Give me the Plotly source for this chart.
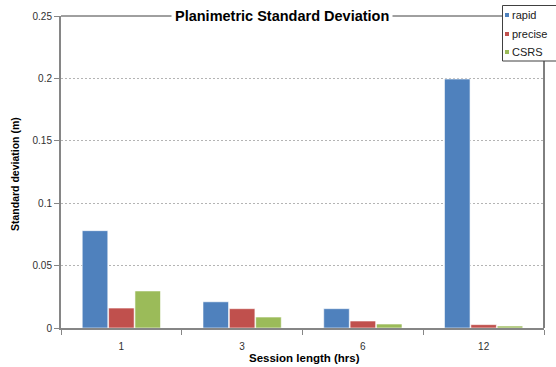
import plotly.graph_objects as go

# Session lengths (hours) and planimetric standard deviation (m) per solution type
sessions = ["1", "3", "6", "12"]
rapid = [0.078, 0.021, 0.0155, 0.1995]
precise = [0.016, 0.0155, 0.0056, 0.0027]
csrs = [0.0297, 0.0088, 0.0032, 0.0016]

series_names = ["rapid", "precise", "CSRS"]
series_values = [rapid, precise, csrs]
series_colors = ["#4F81BD", "#C0504D", "#9BBB59"]

y_ticks = [0, 0.05, 0.1, 0.15, 0.2, 0.25]
y_ticktext = ["0", "0.05", "0.1", "0.15", "0.2", "0.25"]

W, H = 556, 367
ML, MR, MT, MB = 61, 12, 16, 39
PW, PH = W - ML - MR, H - MT - MB


def px_x(x):
    """Pixel column -> paper x."""
    return (x - ML) / PW


def px_y(y):
    """Pixel row (from top) -> paper y."""
    return (H - MB - y) / PH


fig = go.Figure()
for name, vals, color in zip(series_names, series_values, series_colors):
    fig.add_trace(go.Bar(
        name=name, x=sessions, y=vals, showlegend=False,
        marker=dict(color=color, line=dict(color="rgba(255,255,255,0.6)", width=1)),
    ))

font_family = "Liberation Sans, Arial, sans-serif"

fig.update_layout(
    width=W, height=H,
    margin=dict(l=ML, r=MR, t=MT, b=MB, autoexpand=False),
    paper_bgcolor="white", plot_bgcolor="white",
    barmode="group", bargap=0.345, bargroupgap=0.03,
    font=dict(family=font_family, size=10, color="#404040"),
    showlegend=False,
    xaxis=dict(
        type="category", tickson="boundaries",
        ticks="outside", ticklen=5, tickcolor="#868686",
        showline=True, linecolor="#868686", linewidth=2,
        showgrid=False, tickfont=dict(size=10, color="#303030"),
        ticklabelstandoff=8,
    ),
    yaxis=dict(
        range=[0, 0.25], tickvals=y_ticks, ticktext=y_ticktext,
        ticks="outside", ticklen=5, tickcolor="#868686",
        showline=True, linecolor="#868686", linewidth=2,
        showgrid=True, gridcolor="#B4B4B4", griddash="2px,2px", gridwidth=1,
        zeroline=False, tickfont=dict(size=10, color="#303030"),
    ),
)

# Top and right frame edges of the plot area
fig.add_shape(type="line", xref="paper", yref="paper", x0=0, x1=px_x(502), y0=1, y1=1,
              line=dict(color="#404040", width=1), layer="above")
fig.add_shape(type="line", xref="paper", yref="paper", x0=1, x1=1, y0=0, y1=px_y(61),
              line=dict(color="#000000", width=1), layer="above")

# Legend box with small square swatches
fig.add_shape(type="rect", xref="paper", yref="paper",
              x0=px_x(502.5), x1=px_x(W + 5), y0=px_y(5.5), y1=px_y(61),
              line=dict(color="#404040", width=1), fillcolor="white", layer="above")
legend_rows = [15, 34, 52]
for name, color, row in zip(series_names, series_colors, legend_rows):
    fig.add_shape(type="rect", xref="paper", yref="paper",
                  x0=px_x(505), x1=px_x(509), y0=px_y(row - 2), y1=px_y(row + 2),
                  line=dict(width=0), fillcolor=color, layer="above")
    fig.add_annotation(
        text=name, xref="paper", yref="paper", x=px_x(510), y=px_y(row),
        xanchor="left", yanchor="middle", showarrow=False,
        font=dict(size=11, color="#202020", family=font_family),
    )

# Chart title sits on the top frame line
fig.add_annotation(
    text="<b>Planimetric Standard Deviation</b>",
    xref="paper", yref="paper", x=px_x(281.5), y=px_y(16), xanchor="center", yanchor="middle",
    showarrow=False, bgcolor="white", borderpad=3,
    font=dict(size=14.5, color="#000000", family=font_family),
)

# Axis titles
fig.add_annotation(
    text="<b>Session length (hrs)</b>",
    xref="paper", yref="paper", x=px_x(304), y=px_y(358),
    xanchor="center", yanchor="middle",
    showarrow=False, font=dict(size=11.5, color="#000000", family=font_family),
)
fig.add_annotation(
    text="<b>Standard deviation (m)</b>",
    xref="paper", yref="paper", x=px_x(15), y=px_y(174),
    xanchor="center", yanchor="middle",
    textangle=-90, showarrow=False, font=dict(size=10.5, color="#000000", family=font_family),
)

fig.write_html("out.html")
